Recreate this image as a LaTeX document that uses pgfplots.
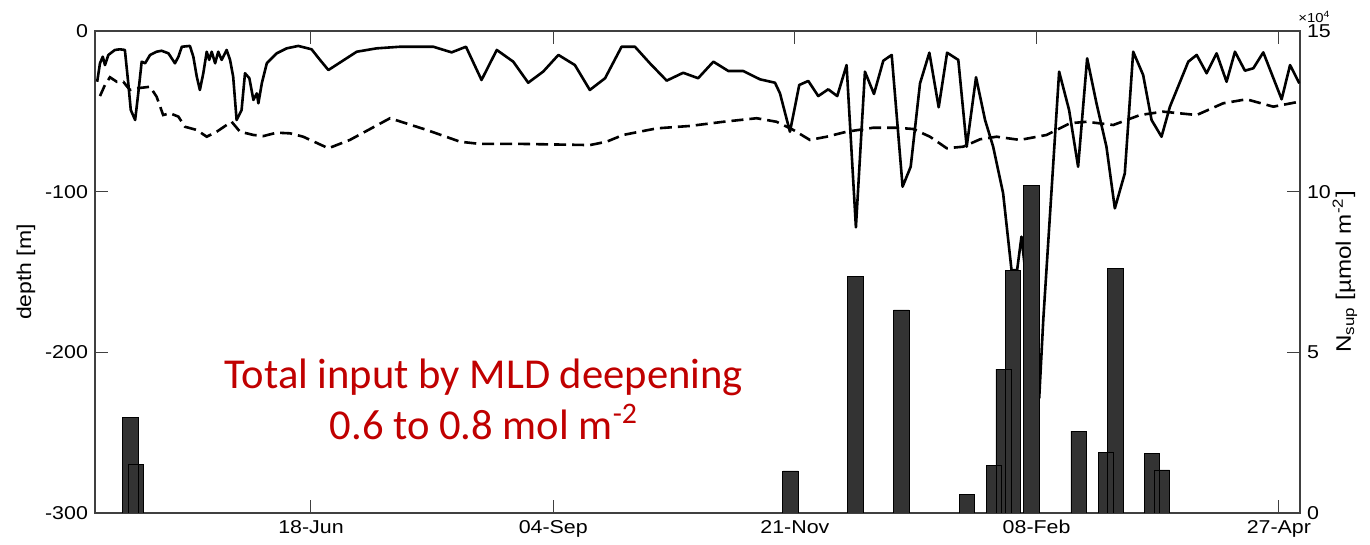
\documentclass[border=0pt]{standalone}
\usepackage{pgfplots}
\pgfplotsset{compat=1.18}
\usepackage{fontspec}
\setmainfont{Liberation Sans}[FakeStretch=1.15]
\newfontfamily\calibri{Carlito}
\definecolor{barfill}{HTML}{333333}
\definecolor{axgray}{HTML}{404040}
\definecolor{txtred}{HTML}{C00000}

\begin{document}
\begin{tikzpicture}
\pgfplotsset{
  common/.style={
    width=602.5pt, height=241pt, scale only axis,
    xmin=99.6, xmax=486.8,
    tick align=inside,
    major tick length=6.5pt,
    tick style={axgray, line width=0.5pt},
    ticklabel style={font=\fontsize{9.3}{11}\selectfont},
    clip mode=individual,
  }
}
% depth axis: mixed layer depth (solid) and dashed reference line
\begin{axis}[common, name=main,
  ymin=-300, ymax=0,
  ytick={-300,-200,-100,0},
  yticklabels={-300,-200,-100,0},
  ytick pos=left,
  xtick={169,246.85,324.5,402.16,480},
  xticklabels={18-Jun,04-Sep,21-Nov,08-Feb,27-Apr},
  xtick pos=both,
  xticklabel pos=bottom,
  axis line style={axgray, line width=0.6pt},
  ylabel={depth [m]},
  every axis y label/.style={at={(rel axis cs:-0.0573,0.5)}, rotate=90, anchor=center, font=\fontsize{10}{12}\selectfont},
]
\addplot[black, line width=1.3pt, line join=round] coordinates {
(100.3,-31.6)(101.2,-20.1)(102.1,-16.0)(102.8,-21.2)(103.9,-14.9)(106.0,-11.8)
(107.6,-11.4)(109.2,-11.8)(110.3,-32.6)(111.1,-49.2)(112.5,-55.4)(113.5,-38.8)
(114.6,-19.1)(115.7,-20.1)(117.3,-14.9)(119.4,-12.9)(121.0,-12.3)(123.2,-13.9)
(125.3,-20.1)(126.4,-16.0)(127.5,-9.8)(130.1,-9.3)(131.2,-16.0)(132.3,-28.4)
(133.3,-36.7)(134.4,-26.3)(135.5,-12.9)(136.3,-18.0)(137.1,-12.9)(138.2,-20.1)
(139.2,-12.9)(140.3,-18.0)(141.9,-11.8)(143.0,-18.0)(144.0,-28.4)(145.1,-55.4)
(146.7,-49.2)(147.8,-26.3)(149.2,-29.4)(150.5,-42.9)(151.6,-38.8)(152.1,-45.0)
(153.2,-32.6)(154.8,-20.1)(158.0,-13.9)(161.2,-10.8)(164.9,-9.3)(169.2,-11.4)
(171.9,-18.0)(174.6,-24.3)(183.7,-12.9)(190.1,-10.8)(197.6,-9.8)(208.3,-9.8)
(214.2,-13.3)(218.8,-9.8)(223.8,-30.5)(228.7,-11.8)(234.0,-19.1)(238.8,-32.2)
(243.6,-25.3)(248.5,-14.9)(253.8,-21.2)(258.6,-36.7)(263.5,-29.4)(268.8,-9.8)
(273.1,-9.8)(277.9,-20.1)(283.3,-30.9)(288.6,-26.0)(293.4,-29.4)(298.3,-19.1)
(303.1,-24.9)(307.9,-24.9)(313.3,-30.1)(318.1,-32.2)(319.7,-38.8)(322.9,-62.7)
(325.9,-33.6)(328.8,-31.1)(332.0,-40.5)(335.2,-36.3)(338.1,-40.5)(341.1,-21.2)
(344.1,-122.2)(347.0,-25.3)(349.9,-39.2)(352.9,-18.5)(355.6,-14.9)(359.1,-96.9)
(361.7,-84.5)(364.7,-32.6)(367.7,-13.5)(370.7,-47.5)(373.4,-13.5)(377.0,-18.0)
(379.7,-72.0)(382.7,-28.8)(385.6,-55.4)(388.2,-72.0)(391.4,-101.0)(394.1,-148.8)
(395.9,-148.8)(397.3,-128.0)(403.0,-228.4)(404.3,-179.9)(409.4,-25.3)(412.6,-49.2)
(415.5,-84.5)(418.4,-17.0)(421.4,-45.0)(424.6,-72.0)(427.3,-110.4)(430.5,-88.6)
(433.2,-12.9)(436.4,-27.4)(439.1,-55.4)(442.3,-65.8)(445.0,-47.1)(450.9,-19.1)
(453.6,-14.9)(456.8,-26.3)(460.0,-13.9)(463.2,-31.6)(465.9,-12.9)(469.1,-24.7)
(471.8,-23.2)(475.0,-13.3)(480.9,-42.5)(483.6,-21.2)(486.6,-32.6)
};
\addplot[black, line width=1.3pt, dash pattern=on 6pt off 3pt] coordinates {
(101.2,-40.5)(102.8,-33.6)(104.4,-28.8)(106.6,-31.6)(108.7,-31.6)(110.8,-36.7)
(113.0,-35.7)(117.3,-34.7)(119.4,-40.9)(121.5,-52.3)(123.7,-51.2)(126.4,-53.3)
(128.5,-59.6)(132.3,-61.6)(135.5,-65.8)(138.7,-62.7)(141.9,-58.5)(143.5,-56.5)
(146.2,-62.7)(150.5,-64.7)(153.7,-65.4)(158.0,-63.3)(162.3,-63.7)(166.5,-65.8)
(174.6,-73.0)(181.5,-67.8)(194.4,-54.3)(206.2,-61.6)(216.9,-68.9)(223.3,-70.3)
(237.2,-70.3)(258.6,-71.0)(264.0,-68.9)(269.3,-64.7)(280.1,-60.6)(290.8,-59.1)
(301.5,-56.5)(312.2,-54.3)(318.6,-56.5)(324.0,-61.6)(329.3,-67.8)(334.7,-65.8)
(341.1,-62.7)(349.7,-60.2)(357.2,-60.2)(362.5,-61.0)(367.9,-65.8)(373.3,-73.0)
(378.6,-72.0)(384.0,-67.4)(389.3,-65.8)(396.8,-67.8)(405.4,-64.7)(412.9,-57.4)
(418.2,-56.5)(426.8,-58.5)(435.4,-52.3)(442.8,-50.2)(453.6,-52.3)(462.1,-45.0)
(469.6,-42.5)(478.2,-47.1)(486.6,-44.0)
};
\node[anchor=base, text=txtred, font=\calibri\fontsize{21.3}{25}\selectfont, inner sep=0pt]
  at (rel axis cs:0.3228,0.2593) {Total input by MLD deepening};
\node[anchor=base, text=txtred, font=\calibri\fontsize{21.3}{25}\selectfont, inner sep=0pt]
  at (rel axis cs:0.3228,0.1535) {0.6 to 0.8 mol m\textsuperscript{-2}};
\end{axis}

% nutrient supply axis (bars), drawn on top of the lines
\begin{axis}[common,
  ymin=0, ymax=150000,
  ytick={0,50000,100000,150000},
  yticklabels={0,5,10,15},
  scaled y ticks=false,
  ytick pos=right,
  hide x axis,
  axis line style={draw=none},
  ylabel={N\textsubscript{sup} [µmol m\textsuperscript{-2}]},
  every axis y label/.style={at={(rel axis cs:1.0373,0.5)}, rotate=90, anchor=center, font=\fontsize{10.5}{12}\selectfont},
]
\addplot[ybar, bar width=5, bar shift=0pt, fill=barfill, draw=none] coordinates {
(110.9,29700)(112.8,15200)(323.1,13100)(343.9,73600)(358.7,63200)(379.8,5900)
(388.5,14900)(391.6,44800)(394.6,75400)(400.5,101800)(415.7,25500)(424.4,18900)
(427.4,76200)(439.2,18600)(442.4,13400)
};
\addplot[ybar, bar width=5, bar shift=0pt, fill=none, draw=black, line width=0.4pt] coordinates {
(110.9,29700)(112.8,15200)(323.1,13100)(343.9,73600)(358.7,63200)(379.8,5900)
(388.5,14900)(391.6,44800)(394.6,75400)(400.5,101800)(415.7,25500)(424.4,18900)
(427.4,76200)(439.2,18600)(442.4,13400)
};
\node[anchor=south west, font=\fontsize{6.5}{7}\selectfont, inner sep=0pt]
  at (rel axis cs:0.9983,1.0166) {×10\textsuperscript{4}};
\end{axis}

\path (main.south west) ++(-47.5pt,-16pt) coordinate (bbA);
\path (main.north east) ++(35pt,15.5pt) coordinate (bbB);
\path (bbA) rectangle (bbB);
\end{tikzpicture}
\end{document}
